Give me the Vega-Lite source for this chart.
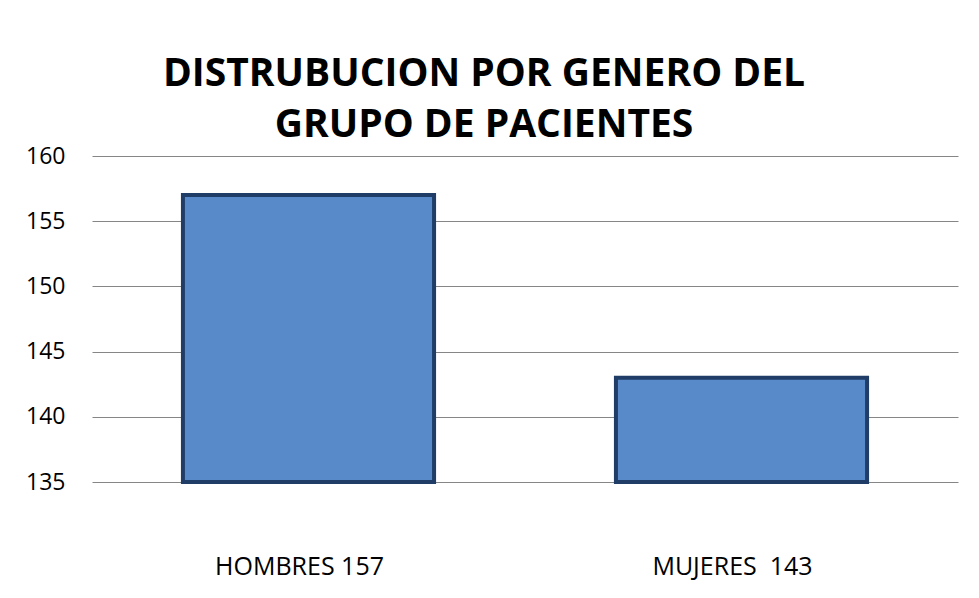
{
  "$schema": "https://vega.github.io/schema/vega-lite/v6.json",
  "autosize": "none",
  "width": 866,
  "height": 326,
  "padding": {"left": 92, "top": 156, "right": 21, "bottom": 116},
  "background": "white",
  "title": {
    "text": ["DISTRUBUCION POR GENERO DEL", "GRUPO DE PACIENTES"],
    "font": "Open Sans",
    "fontSize": 39,
    "fontWeight": "bold",
    "color": "black",
    "lineHeight": 51,
    "anchor": "middle",
    "dx": -41,
    "offset": 0
  },
  "data": {
    "values": [
      {"categoria": "HOMBRES 157", "pacientes": 157},
      {"categoria": "MUJERES\u00a0\u00a0143", "pacientes": 143}
    ]
  },
  "mark": {
    "type": "bar",
    "fill": "#5889C9",
    "stroke": "#1F3D66",
    "strokeWidth": 4
  },
  "encoding": {
    "x": {
      "field": "categoria",
      "type": "nominal",
      "sort": null,
      "scale": {"paddingInner": 0.42, "paddingOuter": 0.21},
      "axis": {
        "title": null,
        "labelAngle": 0,
        "domain": false,
        "ticks": false,
        "labelFont": "Open Sans",
        "labelFontSize": 25,
        "labelColor": "black",
        "labelBaseline": "middle",
        "labelPadding": 84,
        "labelOffset": -9
      }
    },
    "y": {
      "field": "pacientes",
      "type": "quantitative",
      "scale": {"domain": [135, 160], "nice": false, "zero": false},
      "axis": {
        "title": null,
        "values": [135, 140, 145, 150, 155, 160],
        "domain": false,
        "ticks": false,
        "grid": true,
        "gridColor": "#868686",
        "gridWidth": 1,
        "labelFont": "Open Sans",
        "labelFontSize": 23,
        "labelColor": "black",
        "labelPadding": 27
      }
    },
    "y2": {"datum": 135}
  },
  "config": {"view": {"stroke": null}}
}
